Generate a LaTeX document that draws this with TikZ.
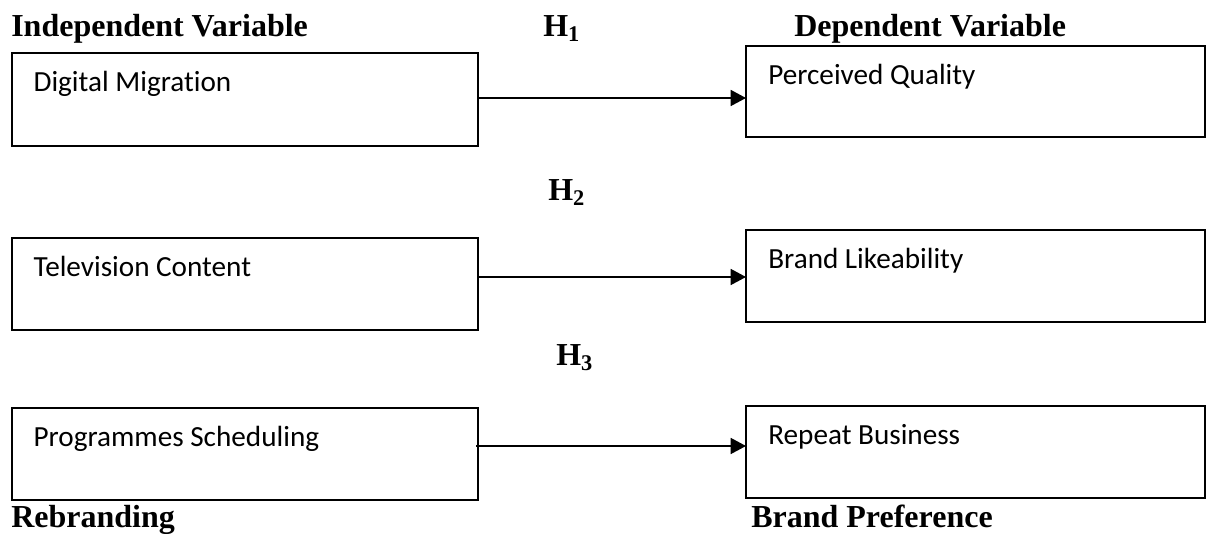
\documentclass[tikz,border=0pt]{standalone}
\usepackage{fontspec}
\setmainfont{Liberation Serif}
\newfontfamily\boxfont[Ligatures=NoCommon]{Carlito}
\usetikzlibrary{arrows.meta}
\tikzset{
  varbox/.style={draw, line width=1.2pt, rectangle, anchor=north west, inner sep=0pt, outer sep=0pt, minimum width=#1},
  varbox/.default={349.5pt},
  boxtext/.style={anchor=base west, inner sep=0pt, font=\boxfont\fontsize{21.9}{26}\selectfont},
  headtext/.style={anchor=base west, inner sep=0pt, font=\bfseries\fontsize{24}{28}\selectfont},
  linkarrow/.style={draw, line width=1.2pt, -{Triangle[length=11.5pt,width=12pt]}}
}
\begin{document}
\begin{tikzpicture}[x=0.75pt,y=-0.75pt]
\useasboundingbox (0,0) rectangle (1208,534);
% headings
\node[headtext] (hind) at (11,37) {Independent Variable};
\node[headtext] (h1) at (543,37) {H\textsubscript{1}};
\node[headtext] (hdep) at (794,37) {Dependent Variable};
\node[headtext] (h2) at (548,201) {H\textsubscript{2}};
\node[headtext] (h3) at (556,366) {H\textsubscript{3}};
\node[headtext] (hreb) at (11,528) {Rebranding};
\node[headtext] (hbp) at (751,528) {Brand Preference};
% boxes
\node[varbox=349.5pt, minimum height=69.75pt] (b1) at (12,53) {};
\node[varbox=344.25pt, minimum height=68.25pt] (b2) at (746,46) {};
\node[varbox=349.5pt, minimum height=69pt] (b3) at (12,238) {};
\node[varbox=344.25pt, minimum height=69pt] (b4) at (746,230) {};
\node[varbox=349.5pt, minimum height=69pt] (b5) at (12,408) {};
\node[varbox=344.25pt, minimum height=69pt] (b6) at (746,406) {};
% box texts
\node[boxtext] (t1) at ([xshift=16pt,yshift=-29.25pt]b1.north west) {Digital Migration};
\node[boxtext] (t2) at ([xshift=16.5pt,yshift=-29.25pt]b2.north west) {Perceived Quality};
\node[boxtext] (t3) at ([xshift=16pt,yshift=-29.25pt]b3.north west) {Television Content};
\node[boxtext] (t4) at ([xshift=16.5pt,yshift=-29.25pt]b4.north west) {Brand Likeability};
\node[boxtext] (t5) at ([xshift=16pt,yshift=-29.25pt]b5.north west) {Programmes Scheduling};
\node[boxtext] (t6) at ([xshift=16.5pt,yshift=-29.25pt]b6.north west) {Repeat Business};
% arrows
\coordinate (a1) at ([yshift=-33.75pt]b1.north east);
\coordinate (a2) at ([yshift=-29.25pt]b3.north east);
\coordinate (a3) at ([xshift=-1.5pt,yshift=-28.5pt]b5.north east);
\draw[linkarrow] (a1) -- (a1 -| b2.west);
\draw[linkarrow] (a2) -- (a2 -| b4.west);
\draw[linkarrow] (a3) -- (a3 -| b6.west);
\end{tikzpicture}
\end{document}
